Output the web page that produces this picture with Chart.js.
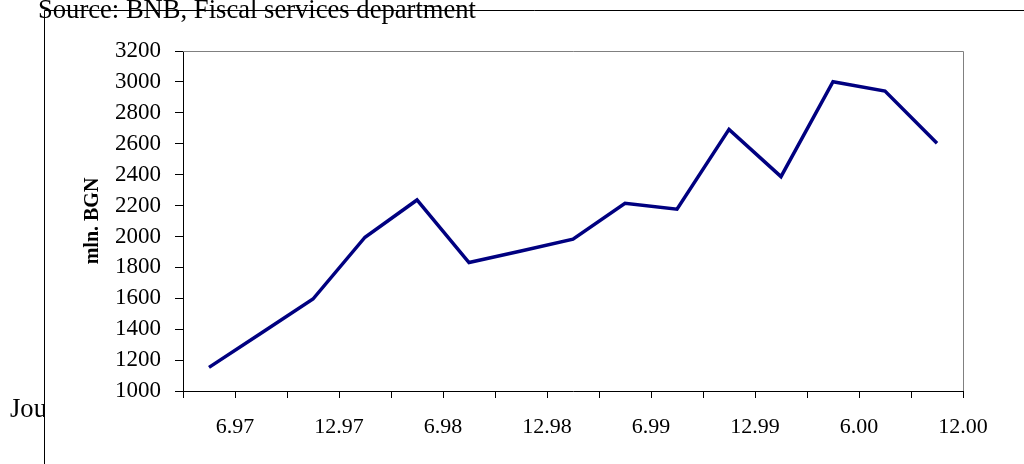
<!DOCTYPE html>
<html>
<head>
<meta charset="utf-8">
<script src="https://cdn.jsdelivr.net/npm/chart.js@4.4.0/dist/chart.umd.min.js"></script>
<style>
html, body { margin: 0; padding: 0; background: #fff; }
canvas { display: block; }
</style>
</head>
<body>
<canvas id="chart" width="1024" height="464"></canvas>
<script>
// quarterly values, mln. BGN
const quarters = ["Q2 97", "Q3 97", "Q4 97", "Q1 98", "Q2 98", "Q3 98", "Q4 98", "Q1 99",
	"Q2 99", "Q3 99", "Q4 99", "Q1 00", "Q2 00", "Q3 00", "Q4 00"]
const balances = [1153, 1374, 1595, 1995, 2236, 1831, 1906, 1982, 2215, 2176, 2693, 2387, 3001, 2941, 2603]
// labels shown at every second tick (end of half-year)
const periodLabels = ["6.97", "12.97", "6.98", "12.98", "6.99", "12.99", "6.00", "12.00"]
const yTicks = [1000, 1200, 1400, 1600, 1800, 2000, 2200, 2400, 2600, 2800, 3000, 3200]

const sourceText = "Source: BNB, Fiscal services department"
const cutText = "Jou"
const serif = "'Liberation Serif', 'Times New Roman', serif"

function getPoints() {
	return quarters.map((q, i) => ({ x: i + 0.5, y: balances[i] }))
}

function tickLabel(value) {
	if (value % 2 === 1) return periodLabels[(value - 1) / 2]
	return ""
}

const framePlugin = {
	id: "frame",
	beforeDraw(chart) {
		const ctx = chart.ctx
		ctx.save()
		ctx.fillStyle = "#fff"
		ctx.fillRect(0, 0, chart.width, chart.height)
		ctx.restore()
	},
	beforeDatasetsDraw(chart) {
		const { ctx, chartArea: a } = chart
		ctx.save()
		ctx.strokeStyle = "#808080"
		ctx.lineWidth = 1
		ctx.beginPath()
		ctx.moveTo(a.left, a.top + 0.5)
		ctx.lineTo(a.right + 0.5, a.top + 0.5)
		ctx.lineTo(a.right + 0.5, a.bottom)
		ctx.stroke()
		ctx.restore()
	},
	afterDraw(chart) {
		const ctx = chart.ctx
		ctx.save()
		ctx.fillStyle = "#000"
		ctx.font = "26.6px " + serif
		ctx.textBaseline = "alphabetic"
		ctx.fillText(sourceText, 38, 18)
		ctx.save()
		ctx.beginPath()
		ctx.rect(0, 0, 44, chart.height)
		ctx.clip()
		ctx.fillText(cutText, 10, 417)
		ctx.restore()
		ctx.strokeStyle = "#000"
		ctx.lineWidth = 1
		ctx.beginPath()
		ctx.moveTo(44.5, chart.height)
		ctx.lineTo(44.5, 10.5)
		ctx.lineTo(chart.width, 10.5)
		ctx.stroke()
		ctx.restore()
	},
}

new Chart(document.getElementById("chart"), {
	type: "line",
	data: {
		datasets: [{
			label: "mln. BGN",
			data: getPoints(),
			borderColor: "#000080",
			borderWidth: 3.5,
			pointRadius: 0,
			tension: 0,
			fill: false,
		}],
	},
	options: {
		responsive: false,
		animation: false,
		devicePixelRatio: 1,
		layout: { padding: { top: 51, right: 61, left: 0, bottom: 0 } },
		plugins: { legend: { display: false }, tooltip: { enabled: false } },
		scales: {
			x: {
				type: "linear",
				min: 0,
				max: 15,
				afterBuildTicks: (scale) => {
					scale.ticks = quarters.map((q, i) => ({ value: i })).concat([{ value: quarters.length }])
				},
				afterFit: (scale) => { scale.height = 73 },
				ticks: {
					autoSkip: false,
					maxRotation: 0,
					padding: 16,
					color: "#000",
					font: { family: serif, size: 22 },
					callback: (value) => tickLabel(value),
				},
				grid: { drawOnChartArea: false, tickLength: 7, color: "#000" },
				border: { color: "#000", width: 1 },
			},
			y: {
				min: 1000,
				max: 3200,
				afterBuildTicks: (scale) => {
					scale.ticks = yTicks.map((v) => ({ value: v }))
				},
				afterFit: (scale) => { scale.width = 183 },
				ticks: {
					padding: 14,
					color: "#000",
					font: { family: serif, size: 23 },
					callback: (value) => String(value),
				},
				grid: { drawOnChartArea: false, tickLength: 8, color: "#000" },
				border: { color: "#000", width: 1 },
				title: {
					display: true,
					text: "mln. BGN",
					color: "#000",
					font: { family: serif, size: 20, weight: "bold" },
					padding: { top: 81, bottom: 0 },
				},
			},
		},
	},
	plugins: [framePlugin],
})
</script>
</body>
</html>
